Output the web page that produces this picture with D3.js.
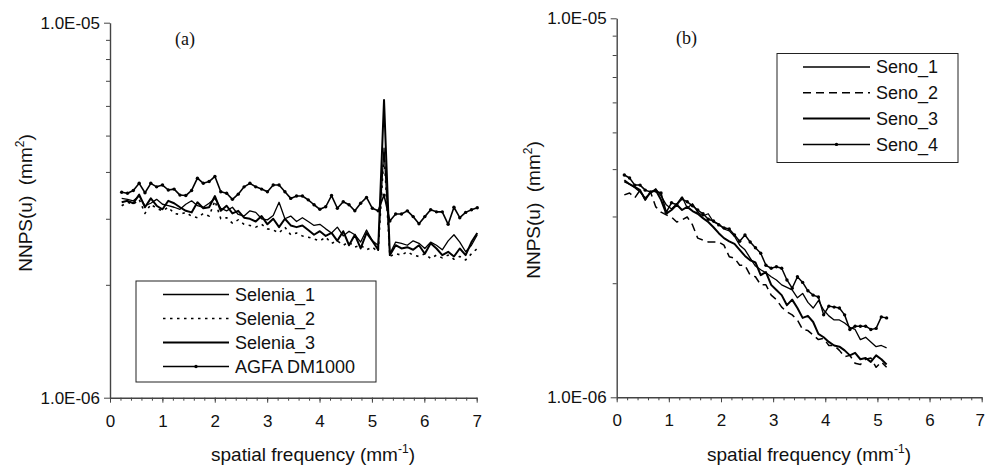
<!DOCTYPE html>
<html>
<head>
<meta charset="utf-8">
<script src="https://cdn.jsdelivr.net/npm/d3@7"></script>
<style>
  body { margin: 0; background: #fff; }
  svg { display: block; font-family: "Liberation Sans", Arial, sans-serif; }
</style>
</head>
<body>
<svg width="986" height="470"></svg>
<script>
// NNPS values in units of 1e-6 mm^2
const freqA = [0.223, 0.334, 0.445, 0.557, 0.668, 0.779, 0.890, 1.002, 1.113, 1.224,
  1.336, 1.447, 1.558, 1.669, 1.781, 1.892, 2.003, 2.115, 2.226, 2.337,
  2.448, 2.560, 2.671, 2.782, 2.894, 3.005, 3.116, 3.227, 3.339, 3.450,
  3.561, 3.673, 3.784, 3.895, 4.006, 4.118, 4.229, 4.340, 4.452, 4.563,
  4.674, 4.785, 4.897, 5.008, 5.119, 5.231, 5.342, 5.453, 5.564, 5.676,
  5.787, 5.898, 6.010, 6.121, 6.232, 6.343, 6.455, 6.566, 6.677, 6.789,
  6.900, 7.011];

const selenia1 = [3.40, 3.38, 3.35, 3.45, 3.25, 3.30, 3.38, 3.28, 3.25, 3.22,
  3.18, 3.28, 3.35, 3.25, 3.22, 3.30, 3.40, 3.20, 3.15, 3.22,
  3.08, 3.05, 3.15, 3.12, 3.00, 2.98, 3.06, 3.32, 3.00, 3.05,
  2.95, 3.02, 2.95, 2.88, 2.90, 2.82, 2.75, 2.85, 2.70, 2.78,
  2.72, 2.60, 2.80, 2.62, 2.55, 4.63, 2.42, 2.60, 2.58, 2.55,
  2.62, 2.58, 2.50, 2.60, 2.55, 2.48, 2.62, 2.72, 2.60, 2.45,
  2.55, 2.72];

const selenia2 = [3.25, 3.32, 3.28, 3.38, 3.10, 3.28, 3.20, 3.15, 3.22, 3.10,
  3.08, 3.12, 3.05, 3.02, 3.10, 3.05, 3.35, 3.00, 3.02, 2.92,
  2.98, 2.90, 2.88, 2.85, 2.90, 2.82, 2.80, 2.75, 2.85, 2.72,
  2.75, 2.70, 2.68, 2.65, 2.62, 2.68, 2.58, 2.62, 2.55, 2.60,
  2.52, 2.55, 2.48, 2.52, 2.45, 4.50, 2.38, 2.42, 2.40, 2.45,
  2.40, 2.38, 2.42, 2.35, 2.40, 2.36, 2.40, 2.34, 2.38, 2.33,
  2.42, 2.50];

const selenia3 = [3.32, 3.35, 3.30, 3.48, 3.22, 3.40, 3.25, 3.18, 3.35, 3.30,
  3.22, 3.15, 3.12, 3.32, 3.20, 3.22, 3.45, 3.15, 3.25, 3.10,
  3.15, 3.02, 3.00, 2.95, 3.05, 2.90, 3.00, 2.85, 3.00, 2.88,
  2.85, 2.88, 2.80, 2.72, 2.78, 2.70, 2.75, 2.62, 2.78, 2.55,
  2.72, 2.50, 2.75, 2.62, 2.48, 6.22, 2.40, 2.55, 2.50, 2.52,
  2.48, 2.55, 2.42, 2.58, 2.50, 2.40, 2.45, 2.38, 2.50, 2.40,
  2.60, 2.75];

const agfa = [3.53, 3.51, 3.57, 3.73, 3.52, 3.73, 3.65, 3.69, 3.58, 3.60,
  3.47, 3.46, 3.57, 3.85, 3.73, 3.77, 3.89, 3.54, 3.51, 3.38,
  3.49, 3.65, 3.73, 3.65, 3.60, 3.54, 3.69, 3.69, 3.54, 3.40,
  3.45, 3.45, 3.37, 3.27, 3.18, 3.23, 3.46, 3.20, 3.33, 3.27,
  3.15, 3.30, 3.42, 3.20, 3.15, 3.47, 2.96, 3.09, 3.09, 3.15,
  3.04, 2.91, 3.04, 3.17, 3.13, 3.13, 2.90, 3.22, 3.02, 3.12,
  3.17, 3.21];

const freqB = [0.146, 0.247, 0.347, 0.448, 0.548, 0.649, 0.750, 0.850, 0.951, 1.051,
  1.152, 1.253, 1.353, 1.454, 1.554, 1.655, 1.756, 1.856, 1.957, 2.057,
  2.158, 2.259, 2.359, 2.460, 2.560, 2.661, 2.762, 2.862, 2.963, 3.063,
  3.164, 3.265, 3.365, 3.466, 3.566, 3.667, 3.768, 3.868, 3.969, 4.069,
  4.170, 4.271, 4.371, 4.472, 4.572, 4.673, 4.774, 4.874, 4.975, 5.075,
  5.176];

const seno1 = [3.70, 3.65, 3.57, 3.48, 3.36, 3.46, 3.55, 3.40, 3.22, 3.14,
  3.24, 3.38, 3.16, 3.24, 3.08, 3.01, 3.05, 2.90, 2.87, 2.78,
  2.75, 2.66, 2.52, 2.45, 2.33, 2.22, 2.17, 2.13, 2.08, 2.04,
  1.98, 1.95, 1.92, 1.83, 1.88, 1.78, 1.72, 1.80, 1.70, 1.64,
  1.60, 1.60, 1.57, 1.53, 1.51, 1.42, 1.44, 1.40, 1.36, 1.37,
  1.35];

const seno2 = [3.42, 3.46, 3.36, 3.52, 3.32, 3.48, 3.18, 3.08, 3.03, 2.99,
  2.90, 2.94, 2.99, 2.85, 2.63, 2.60, 2.57, 2.57, 2.57, 2.52,
  2.35, 2.33, 2.23, 2.23, 2.10, 2.08, 1.98, 1.98, 1.86, 1.81,
  1.73, 1.68, 1.65, 1.60, 1.51, 1.50, 1.46, 1.42, 1.43, 1.37,
  1.37, 1.33, 1.28, 1.29, 1.23, 1.22, 1.26, 1.27, 1.20, 1.24,
  1.20];

const seno3 = [3.74, 3.65, 3.59, 3.52, 3.32, 3.48, 3.52, 3.32, 3.05, 3.12,
  3.22, 3.12, 3.18, 3.10, 3.05, 2.97, 2.90, 2.81, 2.71, 2.63,
  2.58, 2.54, 2.45, 2.36, 2.30, 2.27, 2.10, 2.14, 1.98, 1.92,
  1.86, 1.75, 1.81, 1.72, 1.62, 1.64, 1.58, 1.47, 1.44, 1.40,
  1.37, 1.36, 1.33, 1.29, 1.31, 1.26, 1.27, 1.24, 1.29, 1.26,
  1.22];

const seno4 = [3.86, 3.79, 3.63, 3.63, 3.52, 3.48, 3.50, 3.46, 3.08, 3.26,
  3.22, 3.34, 3.28, 3.20, 3.12, 3.05, 2.95, 2.92, 2.85, 2.80,
  2.78, 2.68, 2.58, 2.68, 2.57, 2.48, 2.40, 2.23, 2.19, 2.21,
  2.19, 2.04, 1.94, 2.08, 2.01, 1.91, 1.86, 1.84, 1.65, 1.74,
  1.73, 1.72, 1.65, 1.51, 1.54, 1.54, 1.54, 1.51, 1.52, 1.63,
  1.62];

const yMajor = [1, 10];
const yMajorLabels = ["1.0E-06", "1.0E-05"];
const yMinor = [2, 3, 4, 5, 6, 7, 8, 9];
const xMajor = [0, 1, 2, 3, 4, 5, 6, 7];
const xMinor = d3.range(0, 7.001, 0.2);

const svg = d3.select("svg");

function drawPanel(p) {
  const x = d3.scaleLinear().domain([0, 7]).range([p.left, p.right]);
  const y = d3.scaleLog().domain([1, 10]).range([p.bottom, p.top]);
  const g = svg.append("g");

  // y axis
  g.append("g").attr("transform", `translate(${p.left},0)`)
    .call(d3.axisLeft(y).tickValues(yMinor).tickSize(4).tickSizeOuter(0).tickFormat(""))
    .call(a => a.select(".domain").remove());
  g.append("g").attr("transform", `translate(${p.left},0)`)
    .call(d3.axisLeft(y).tickValues(yMajor).tickSize(6).tickSizeOuter(0)
      .tickFormat((d, i) => yMajorLabels[i]).tickPadding(4))
    .call(a => a.select(".domain").attr("stroke", "#444").attr("stroke-width", 1.4))
    .call(a => a.selectAll("text").attr("font-size", 17).attr("fill", "#111")
      .attr("font-family", "Liberation Sans, Arial, sans-serif"));

  // x axis
  g.append("g").attr("transform", `translate(0,${p.bottom})`)
    .call(d3.axisBottom(x).tickValues(xMinor).tickSize(3).tickSizeOuter(0).tickFormat(""))
    .call(a => a.select(".domain").remove());
  g.append("g").attr("transform", `translate(0,${p.bottom})`)
    .call(d3.axisBottom(x).tickValues(xMajor).tickSize(5).tickSizeOuter(0)
      .tickFormat(d3.format("d")).tickPadding(12))
    .call(a => a.select(".domain").attr("stroke", "#444").attr("stroke-width", 1.4))
    .call(a => a.selectAll("text").attr("font-size", 17).attr("fill", "#111")
      .attr("font-family", "Liberation Sans, Arial, sans-serif")
      .attr("dx", d => (p.right > 970 && d === 7) ? -2 : 0));
  g.selectAll(".tick line").attr("stroke", "#444");

  // axis titles
  const xt = g.append("text").attr("x", p.xTitleX).attr("y", 461)
    .attr("text-anchor", "middle").attr("font-size", 19).attr("fill", "#111")
    .text("spatial frequency (mm");
  xt.append("tspan").attr("font-size", 12).attr("dy", -8).text("-1");
  xt.append("tspan").attr("dy", 8).text(")");

  const yt = g.append("text")
    .attr("transform", `translate(${p.yTitleX},${p.yTitleY}) rotate(-90)`)
    .attr("text-anchor", "middle").attr("font-size", 19).attr("fill", "#111")
    .attr("xml:space", "preserve")
    .text("NNPS(u)  (mm");
  yt.append("tspan").attr("font-size", 12).attr("dy", -8).text("2");
  yt.append("tspan").attr("dy", 8).text(")");

  g.append("text").attr("x", p.tagX).attr("y", p.tagY)
    .attr("font-family", "Liberation Serif, Times New Roman, serif")
    .attr("font-size", 18).attr("fill", "#111").text(p.tag);

  // series
  const line = d3.line().x(d => x(d[0])).y(d => y(d[1]));
  p.series.forEach(s => {
    const pts = d3.zip(p.freq, s.values);
    g.append("path").datum(pts).attr("d", line)
      .attr("fill", "none").attr("stroke", "#000")
      .attr("stroke-width", s.width).attr("stroke-dasharray", s.dash || null)
      .attr("stroke-linejoin", "round");
    if (s.dots) {
      g.append("g").selectAll("circle").data(pts).join("circle")
        .attr("cx", d => x(d[0])).attr("cy", d => y(d[1])).attr("r", 1.7).attr("fill", "#000");
    }
  });

  // legend
  const L = p.legend;
  g.append("rect").attr("x", L.x).attr("y", L.y).attr("width", L.w).attr("height", L.h)
    .attr("fill", "#fff").attr("stroke", "#222").attr("stroke-width", 1);
  p.series.forEach((s, i) => {
    const cy = L.rowY + i * L.rowH;
    g.append("line").attr("x1", L.lineX1).attr("x2", L.lineX2).attr("y1", cy).attr("y2", cy)
      .attr("stroke", "#000").attr("stroke-width", s.width).attr("stroke-dasharray", s.dash || null);
    if (s.dots) {
      g.append("circle").attr("cx", (L.lineX1 + L.lineX2) / 2).attr("cy", cy).attr("r", 1.7).attr("fill", "#000");
    }
    g.append("text").attr("x", L.textX).attr("y", cy).attr("dy", "0.36em")
      .attr("font-size", 18).attr("fill", "#111").text(s.name);
  });
}

drawPanel({
  left: 110, right: 476.7, top: 22.7, bottom: 397.7,
  freq: freqA, tag: "(a)", tagX: 175, tagY: 45,
  xTitleX: 313, yTitleX: 32, yTitleY: 203,
  series: [
    { name: "Selenia_1", values: selenia1, width: 1.3 },
    { name: "Selenia_2", values: selenia2, width: 1.6, dash: "2.5,4.5" },
    { name: "Selenia_3", values: selenia3, width: 2 },
    { name: "AGFA DM1000", values: agfa, width: 1.6, dots: true }
  ],
  legend: { x: 136, y: 281, w: 240, h: 101, rowY: 294.5, rowH: 24, lineX1: 163, lineX2: 229, textX: 235 }
});

drawPanel({
  left: 616.7, right: 981.7, top: 18.3, bottom: 397.3,
  freq: freqB, tag: "(b)", tagX: 676, tagY: 44,
  xTitleX: 809, yTitleX: 540, yTitleY: 210,
  series: [
    { name: "Seno_1", values: seno1, width: 1.3 },
    { name: "Seno_2", values: seno2, width: 1.5, dash: "8,5" },
    { name: "Seno_3", values: seno3, width: 2 },
    { name: "Seno_4", values: seno4, width: 1.5, dots: true }
  ],
  legend: { x: 777, y: 53.5, w: 181, h: 109, rowY: 67, rowH: 25.8, lineX1: 803, lineX2: 870, textX: 876 }
});
</script>
</body>
</html>
